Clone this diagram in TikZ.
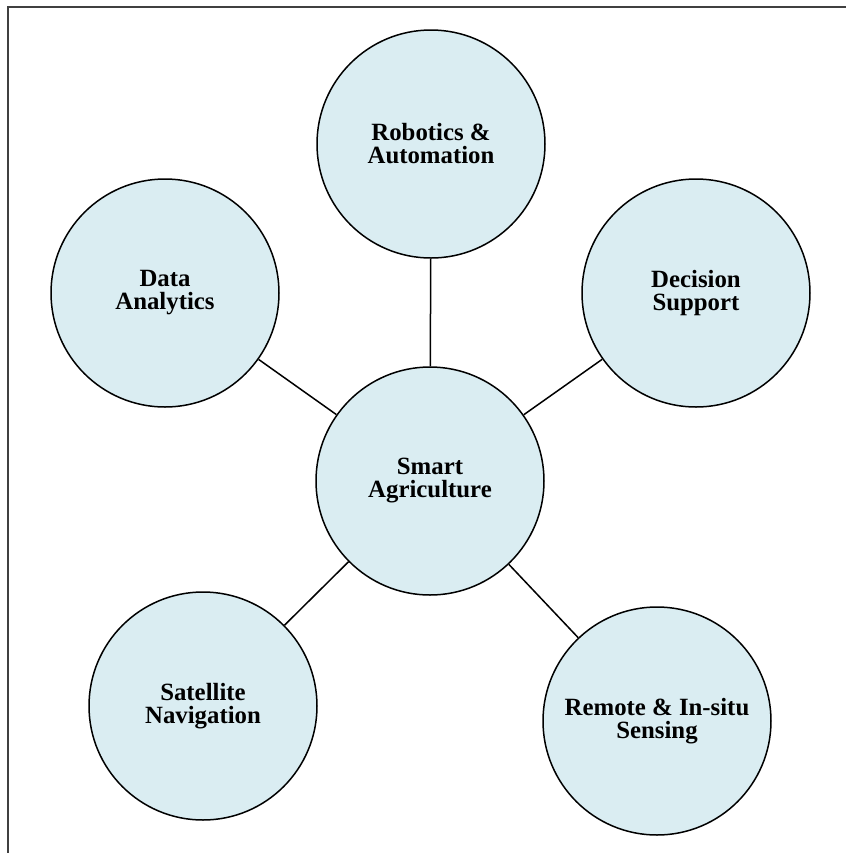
\documentclass[tikz,border=0pt]{standalone}
\usepackage{fontspec}
\setmainfont{Liberation Serif}
\usepackage{tikz}
\usetikzlibrary{positioning}
\usepackage{xcolor}

\definecolor{topicfill}{RGB}{218,237,242}

\tikzset{
  every topic/.style={circle, draw, line width=0.75pt, fill=topicfill,
    minimum size=114pt, inner sep=0pt, align=center,
    font=\fontsize{12.4}{11.5}\selectfont\bfseries},
  link/.style={line width=0.75pt}
}

\begin{document}
\begin{tikzpicture}[x=0.5pt, y=-0.5pt]
	
	\useasboundingbox (0,0) rectangle (846,853);
	
	% frame, only top and left edges show
	\coordinate (frame-tr) at (846,7);
	\coordinate (frame-tl) at (8,7);
	\coordinate (frame-bl) at (8,853);
	\draw [line width=1pt, black!75] (frame-tr) -- (frame-tl) -- (frame-bl);
	
	\node [every topic] (hub) at (430,481) {Smart\\Agriculture};
	
	\foreach \m/\x/\y/\l in {
	    robotics/431/144/{Robotics \&\\Automation},
	    data/165/293/{Data\\Analytics},
	    decision/696/293/{Decision\\Support},
	    satellite/203/706/{Satellite\\Navigation},
	    sensing/657/721/{Remote \& In-situ\\Sensing}}
	  \node [every topic] (topic-\m) at (\x,\y) {\l};
	
	\foreach \m in {robotics,data,decision,satellite,sensing}
	  \draw [link] (hub) -- (topic-\m);
	
\end{tikzpicture}
\end{document}
